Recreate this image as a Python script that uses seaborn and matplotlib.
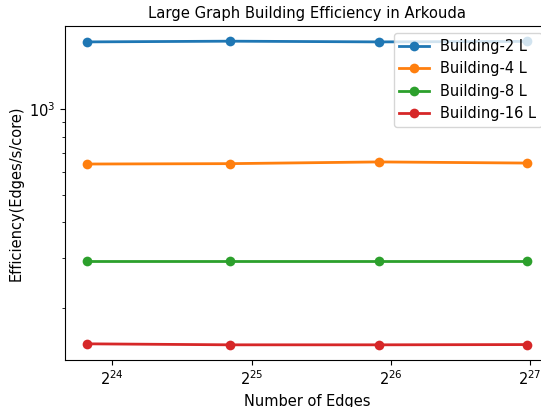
import matplotlib
matplotlib.use("Agg")
import matplotlib.pyplot as plt
import seaborn as sns
import pandas as pd

edges = [14.8e6, 30.2e6, 63.4e6, 132.4e6]
series_names = ["Building-2 L", "Building-4 L", "Building-8 L", "Building-16 L"]
eff_2 = [1723, 1733, 1723, 1730]
eff_4 = [641, 643, 652, 646]
eff_8 = [292.5, 292.5, 292.5, 292.5]
eff_16 = [149.5, 148.3, 148.3, 148.6]
colors = ["#1f77b4", "#ff7f0e", "#2ca02c", "#d62728"]

values = [eff_2, eff_4, eff_8, eff_16]

fig = plt.figure(figsize=(5.41, 4.07), dpi=100)
ax = fig.add_axes([65 / 541, 1 - 360 / 407, 484.4 / 541, 334 / 407])

for name, vals, col in zip(series_names, values, colors):
    df = pd.DataFrame({"edges": edges, "eff": vals})
    sns.lineplot(data=df, x="edges", y="eff", ax=ax, color=col, marker="o",
                 markersize=7, markeredgewidth=0, linewidth=2, label=name)

ax.set_xscale("log", base=2)
ax.set_yscale("log")
fs = 10.5
ax.set_title("Large Graph Building Efficiency in Arkouda", fontsize=10.6)
ax.set_xlabel("Number of Edges", fontsize=fs)
ax.set_ylabel("Efficiency(Edges/s/core)", fontsize=fs)
ax.tick_params(labelsize=fs)
ax.legend(loc="upper right", fontsize=fs)

fig.savefig("out.png", dpi=100)
